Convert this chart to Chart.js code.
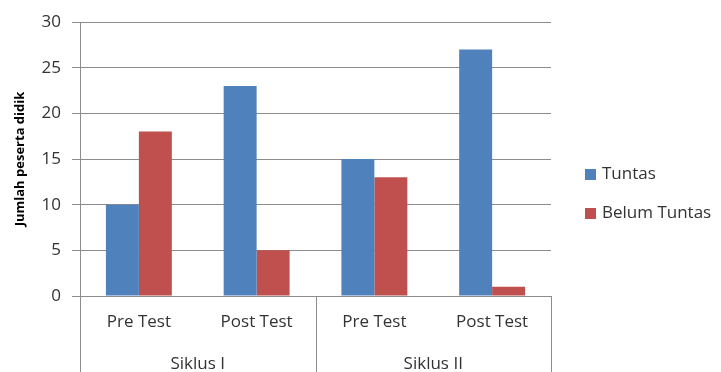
<!DOCTYPE html>
<html>
<head>
<meta charset="utf-8">
<script src="https://cdn.jsdelivr.net/npm/chart.js@4/dist/chart.umd.min.js"></script>
<style>
  html, body { margin: 0; padding: 0; background: #fff; }
  #wrap { width: 721px; height: 372px; position: relative; }
</style>
</head>
<body>
<div id="wrap"><canvas id="c" width="721" height="372"></canvas></div>
<script>
// Test phases and the cycle each one belongs to
const categories = ["Pre Test", "Post Test", "Pre Test", "Post Test"];
const groups = ["Siklus I", "Siklus II"];
const groupSizes = [2, 2];

// Number of students per outcome
const tuntas = [10, 23, 15, 27];
const belumTuntas = [18, 5, 13, 1];

const seriesNames = ["Tuntas", "Belum Tuntas"];
const seriesColors = ["#4F81BD", "#C0504D"];

const yTicks = [0, 5, 10, 15, 20, 25, 30];

const FONT = "'Open Sans', 'Noto Sans', sans-serif";
const TEXT = "#333333";
const LINE = "#8c8c8c";
const SIZE = 17;

// Group labels under the categories, with separators between cycles
const groupAxis = {
  id: "groupAxis",
  afterDraw(chart) {
    const ctx = chart.ctx;
    const x = chart.scales.x;
    const area = chart.chartArea;
    const bottom = chart.height;
    const half = (x.getPixelForValue(1) - x.getPixelForValue(0)) / 2;
    ctx.save();
    ctx.strokeStyle = LINE;
    ctx.lineWidth = 1;
    ctx.fillStyle = TEXT;
    ctx.font = SIZE + "px " + FONT;
    ctx.textAlign = "center";
    ctx.textBaseline = "middle";
    let start = 0;
    const edges = [];
    groups.forEach((g, i) => {
      const end = start + groupSizes[i] - 1;
      const left = x.getPixelForValue(start) - half;
      const right = x.getPixelForValue(end) + half;
      edges.push(left, right);
      ctx.fillText(g, (left + right) / 2, 364);
      start = end + 1;
    });
    [...new Set(edges.map(e => Math.round(e)))].forEach(px => {
      ctx.beginPath();
      ctx.moveTo(px + 0.5, area.bottom);
      ctx.lineTo(px + 0.5, bottom);
      ctx.stroke();
    });
    ctx.restore();
  }
};

// Legend drawn to the right of the plot
const sideLegend = {
  id: "sideLegend",
  afterDraw(chart) {
    const ctx = chart.ctx;
    ctx.save();
    ctx.font = SIZE + "px " + FONT;
    ctx.textBaseline = "middle";
    ctx.textAlign = "left";
    const ys = [174, 213];
    chart.data.datasets.forEach((ds, i) => {
      ctx.fillStyle = ds.backgroundColor;
      ctx.fillRect(585, ys[i] - 5, 11, 11);
      ctx.fillStyle = TEXT;
      ctx.fillText(ds.label, 602, ys[i]);
    });
    ctx.restore();
  }
};

new Chart(document.getElementById("c"), {
  type: "bar",
  data: {
    labels: categories,
    datasets: [
      { label: seriesNames[0], data: tuntas, backgroundColor: seriesColors[0] },
      { label: seriesNames[1], data: belumTuntas, backgroundColor: seriesColors[1] }
    ]
  },
  options: {
    responsive: false,
    animation: false,
    devicePixelRatio: 1,
    layout: { padding: { top: 22, right: 170, left: 0, bottom: 0 } },
    categoryPercentage: 0.56,
    barPercentage: 1.0,
    plugins: {
      legend: { display: false },
      tooltip: { enabled: false }
    },
    scales: {
      x: {
        grid: { display: false, drawTicks: false },
        border: { display: true, color: LINE, width: 1 },
        ticks: {
          color: TEXT,
          font: { family: FONT, size: SIZE },
          padding: 16,
          maxRotation: 0
        },
        afterFit(scale) { scale.height = 76; }
      },
      y: {
        min: 0,
        max: 30,
        afterBuildTicks(scale) { scale.ticks = yTicks.map(v => ({ value: v })); },
        grid: { color: LINE, tickLength: 8, drawTicks: true },
        border: { display: true, color: LINE, width: 1 },
        ticks: {
          color: TEXT,
          font: { family: FONT, size: SIZE },
          padding: 11
        },
        title: {
          display: true,
          text: "Jumlah peserta didik",
          color: "#000",
          font: { family: FONT, size: 13, weight: "bold" },
          padding: { top: 12, bottom: 4 }
        },
        afterFit(scale) { scale.width = 80; }
      }
    }
  },
  plugins: [groupAxis, sideLegend]
});
</script>
</body>
</html>
